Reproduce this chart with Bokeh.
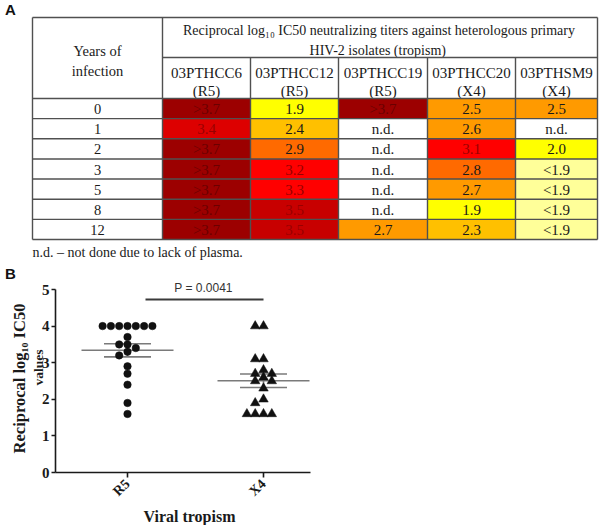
import math
from bokeh.plotting import figure
from bokeh.models import Range1d, FixedTicker, ColumnDataSource, LinearAxis
from bokeh.embed import file_html
from bokeh.resources import INLINE
from bokeh.core.properties import value

# ---------------- data: panel A (table) ----------------
years = ["0", "1", "2", "3", "5", "8", "12"]
isolates = ["03PTHCC6", "03PTHCC12", "03PTHCC19", "03PTHCC20", "03PTHSM9"]
tropisms = ["(R5)", "(R5)", "(R5)", "(X4)", "(X4)"]
titer_03PTHCC6 = [">3.7", "3.4", ">3.7", ">3.7", ">3.7", ">3.7", ">3.7"]
titer_03PTHCC12 = ["1.9", "2.4", "2.9", "3.2", "3.3", "3.5", "3.5"]
titer_03PTHCC19 = [">3.7", "n.d.", "n.d.", "n.d.", "n.d.", "n.d.", "2.7"]
titer_03PTHCC20 = ["2.5", "2.6", "3.1", "2.8", "2.7", "1.9", "2.3"]
titer_03PTHSM9 = ["2.5", "n.d.", "2.0", "<1.9", "<1.9", "<1.9", "<1.9"]
table_title_1 = "Reciprocal log\u2081\u2080 IC50 neutralizing titers against heterologous primary"
table_title_2 = "HIV-2 isolates  (tropism)"
first_header = ["Years of", "infection"]
footnote = "n.d. \u2013 not done due to lack of plasma."

# ---------------- data: panel B (scatter) ----------------
groups = ["R5", "X4"]
r5_values = [4.0, 4.0, 4.0, 4.0, 4.0, 4.0, 4.0, 3.7, 3.5, 3.5, 3.4, 3.3, 3.2, 2.9, 2.7, 2.4, 1.9, 1.6]
x4_values = [4.0, 4.0, 3.1, 3.1, 2.8, 2.7, 2.7, 2.6, 2.5, 2.5, 2.3, 2.0, 1.9, 1.6, 1.6, 1.6, 1.6]
y_ticks = [0, 1, 2, 3, 4, 5]
p_text = "P = 0.0041"
y_title_1 = "Reciprocal log\u2081\u2080 IC50"
y_title_2 = "values"
x_title = "Viral tropism"

# ---------------- layout constants ----------------
W, H = 600, 525
SERIF = "Liberation Serif"
SANS = "Liberation Sans"
INK = "#1a1a1a"

p = figure(width=W, height=H, x_range=Range1d(0, W), y_range=Range1d(H, 0),
           output_backend="svg", toolbar_location=None, x_axis_type=None,
           y_axis_type=None, min_border=0, outline_line_color=None)

def txt(xs, ys, texts, size="14px", font=SERIF, style="normal", align="center",
        color=INK, angle=0.0, **kw):
    p.text(x=xs, y=ys, text=texts, text_color=color, text_align=align,
           text_baseline="middle", text_font=value(font), text_font_size=size,
           text_font_style=style, angle=angle, **kw)

# ================= Panel A =================
col_edges = [32, 162, 250, 338, 427, 515, 597]
y_top, y_mid, y_head, y_bot = 17, 57, 98, 239
row_h = (y_bot - y_head) / len(years)


def cell_fill(t):
    if t == "n.d.":
        return "#FFFFFF"
    if t.startswith(">"):
        return "#9C0000"
    if t.startswith("<"):
        return "#FFFF99"
    v = float(t)
    if v >= 3.5:
        return "#C80000"
    if v >= 3.4:
        return "#DD0000"
    if v >= 3.1:
        return "#FF0000"
    if v >= 2.8:
        return "#FF6A00"
    if v >= 2.5:
        return "#FF9A00"
    if v >= 2.3:
        return "#FFC000"
    return "#FFFF00"


def cell_text_color(t):
    if t.startswith(">"):
        return "#6A0000"
    if t != "n.d." and not t.startswith("<") and float(t) >= 3.1:
        return "#990000"
    return INK


columns = [titer_03PTHCC6, titer_03PTHCC12, titer_03PTHCC19, titer_03PTHCC20, titer_03PTHSM9]
L, R, T, B, F, TX, TY, TT, TC = [], [], [], [], [], [], [], [], []
for j, col in enumerate(columns):
    for i, t in enumerate(col):
        l, r = col_edges[j + 1], col_edges[j + 2]
        top = y_head + i * row_h
        L.append(l); R.append(r); T.append(top); B.append(top + row_h)
        F.append(cell_fill(t))
        TX.append((l + r) / 2); TY.append(top + row_h / 2 + 0.5)
        TT.append(t); TC.append(cell_text_color(t))

p.quad(left=L, right=R, top=T, bottom=B, fill_color=F, line_color=None)
p.text(x=TX, y=TY, text=TT, text_color=TC, text_align="center", text_baseline="middle",
       text_font=value(SERIF), text_font_size="15px")

txt([(col_edges[0] + col_edges[1]) / 2] * len(years),
    [y_head + (i + 0.5) * row_h + 0.5 for i in range(len(years))], years, size="14.5px")
txt([97, 97], [50, 70], first_header, size="14.5px")
txt([378.5, 379], [29.5, 50], [table_title_1, table_title_2], size="14px")
hx = [(col_edges[j + 1] + col_edges[j + 2]) / 2 for j in range(len(isolates))]
txt(hx, [72.5] * len(isolates), isolates, size="15px")
txt(hx, [90] * len(isolates), tropisms, size="15px")

x0s, y0s, x1s, y1s = [], [], [], []
def seg(a, b, c, d):
    x0s.append(a); y0s.append(b); x1s.append(c); y1s.append(d)

seg(col_edges[0], y_top, col_edges[-1], y_top)
seg(col_edges[1], y_mid, col_edges[-1], y_mid)
for i in range(len(years) + 1):
    yv = y_head + i * row_h
    seg(col_edges[0], yv, col_edges[-1], yv)
for k in (0, 1, len(col_edges) - 1):
    seg(col_edges[k], y_top, col_edges[k], y_bot)
for k in range(2, len(col_edges) - 1):
    seg(col_edges[k], y_mid, col_edges[k], y_bot)
p.segment(x0=x0s, y0=y0s, x1=x1s, y1=y1s, line_color="#505050", line_width=1.4)

txt([32], [252], [footnote], align="left", size="14px")
txt([10], [8.5], ["A"], size="15px", font=SANS, style="bold", color="#111111")

# ================= Panel B =================
fr_left_ref, fr_right_ref = 55, 310
fr_top_ref, fr_bot_ref = 289, 472
r5_ref, x4_ref = 127, 263
upx = (x4_ref - r5_ref)                 # px per x unit
upy = (fr_bot_ref - fr_top_ref) / 5.0   # px per y unit

def dx(xr):
    return 1 + (xr - r5_ref) / upx

def dy(yr):
    return (fr_bot_ref - yr) / upy

p.extra_x_ranges = {"bx": Range1d(dx(0), dx(W))}
p.extra_y_ranges = {"by": Range1d(dy(H), dy(0))}
RB = dict(x_range_name="bx", y_range_name="by")

yax = LinearAxis(fixed_location=dx(fr_left_ref), bounds=(0, 5),
                 ticker=FixedTicker(ticks=y_ticks), **RB)
xax = LinearAxis(fixed_location=0, bounds=(dx(fr_left_ref), dx(fr_right_ref)),
                 ticker=FixedTicker(ticks=[1, 2]), **RB)
xax.major_label_overrides = {1: groups[0], 2: groups[1]}
xax.major_label_orientation = math.pi / 4
for ax, lab_size in ((yax, "15px"), (xax, "14px")):
    ax.minor_tick_line_color = None
    ax.major_tick_in = 0
    ax.major_tick_out = 5 if ax is xax else 4
    ax.major_label_standoff = 4 if ax is xax else 2
    ax.axis_line_width = 1.6
    ax.major_tick_line_width = 1.6
    ax.axis_line_color = INK
    ax.major_tick_line_color = INK
    ax.major_label_text_font = SERIF
    ax.major_label_text_font_style = "bold"
    ax.major_label_text_font_size = lab_size
    ax.major_label_text_color = INK
p.add_layout(yax, "left")
p.add_layout(xax, "below")


def swarm(vals, center, step=8.3 / upx, gap=0.15):
    slots = [0, -1, 1, -2, 2, -3, 3, -4, 4, -5, 5]
    placed = []
    xs = [0.0] * len(vals)
    order = sorted(range(len(vals)), key=lambda i: -vals[i])
    for i in order:
        chosen = slots[-1]
        for s in slots:
            if all(not (ps == s and abs(pv - vals[i]) < gap - 1e-9) for ps, pv in placed):
                chosen = s
                break
        placed.append((chosen, vals[i]))
        xs[i] = center + chosen * step
    return xs


def mean_sem(vals):
    n = len(vals)
    m = sum(vals) / n
    sd = math.sqrt(sum((v - m) ** 2 for v in vals) / (n - 1))
    return m, sd / math.sqrt(n)


for gi, (vals, marker, msize) in enumerate([(r5_values, "circle", 7.5), (x4_values, "triangle", 9.5)]):
    c = gi + 1
    m, se = mean_sem(vals)
    hw_mean = 46 / upx
    hw_sem = 23.5 / upx
    p.segment(x0=[c - hw_mean, c - hw_sem, c - hw_sem, c],
              y0=[m, m + se, m - se, m - se],
              x1=[c + hw_mean, c + hw_sem, c + hw_sem, c],
              y1=[m, m + se, m - se, m + se],
              line_color="#7a7a7a", line_width=1.6, **RB)
    src = ColumnDataSource(dict(x=swarm(vals, c), y=vals))
    p.scatter(x="x", y="y", source=src, marker=marker, size=msize,
              fill_color="#111111", line_color="#111111", line_width=0.5, **RB)

# significance bar and text
p.segment(x0=[dx(145)], y0=[dy(299)], x1=[2], y1=[dy(299)], line_color="#3a3a3a",
          line_width=2, **RB)
txt([203], [287], [p_text], size="12px", font=SANS, color="#333333")

# axis titles and panel letter
txt([19], [378], [y_title_1], size="16.5px", style="bold", angle=math.pi / 2)
txt([38], [367], [y_title_2], size="13.5px", style="bold", angle=math.pi / 2)
txt([189], [516], [x_title], size="16px", style="bold")
txt([10], [272.5], ["B"], size="15px", font=SANS, style="bold", color="#111111")

open("out.html", "w").write(file_html(p, INLINE))
